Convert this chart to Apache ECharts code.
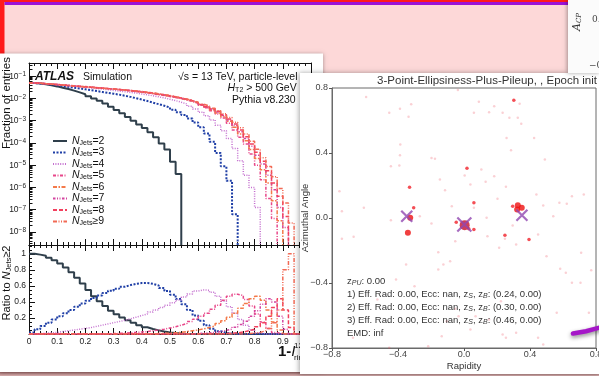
<!DOCTYPE html>
<html>
<head>
<meta charset="utf-8">
<script src="https://cdn.jsdelivr.net/npm/echarts@6/dist/echarts.min.js"></script>
<style>
  html, body { margin: 0; padding: 0; background: #fff; }
  #c { width: 599px; height: 376px; }
</style>
</head>
<body>
<div id="c"></div>
<script>
// ---------- jet-shape histograms (left sheet) ----------
// Bin edges of the 1 - I ring variable
const binEdges = [0.00,0.02,0.04,0.06,0.08,0.10,0.12,0.14,0.16,0.18,0.20,0.22,0.24,0.26,0.28,0.30,0.32,0.34,0.36,0.38,
                  0.40,0.42,0.44,0.46,0.48,0.50,0.52,0.54,0.56,0.58,0.60,0.62,0.64,0.66,0.68,0.70,0.72,0.74,0.76,0.78,
                  0.80,0.82,0.84,0.86,0.88,0.90,0.92,0.94,0.96,0.98,1.00];

const jetLabels = ['NJets=2','NJets=3','NJets=4','NJets=5','NJets=6','NJets=7','NJets=8','NJets\u22659'];

// log10 of the fraction of entries per bin
const logFracJets2 = [-1.31,-1.33,-1.36,-1.41,-1.46,-1.52,-1.58,-1.65,-1.73,-1.81,-1.90,-2.00,-2.11,-2.23,-2.37,-2.52,-2.67,-2.83,-3.00,-3.17,
                      -3.33,-3.52,-3.75,-4.02,-4.30,-4.85,-5.40];
const logFracJets3 = [-1.31,-1.33,-1.35,-1.38,-1.41,-1.44,-1.48,-1.52,-1.55,-1.59,-1.63,-1.67,-1.71,-1.75,-1.79,-1.83,-1.88,-1.93,-1.99,-2.05,
                      -2.12,-2.19,-2.26,-2.33,-2.41,-2.51,-2.62,-2.75,-2.90,-3.08,-3.30,-3.58,-3.95,-4.45,-5.05,-5.70,-7.20];
const logFracJets4 = [-1.31,-1.32,-1.34,-1.36,-1.38,-1.40,-1.43,-1.45,-1.48,-1.50,-1.53,-1.56,-1.58,-1.61,-1.64,-1.67,-1.70,-1.73,-1.76,-1.80,
                      -1.84,-1.88,-1.93,-1.98,-2.04,-2.10,-2.17,-2.25,-2.35,-2.48,-2.62,-2.78,-2.97,-3.20,-3.45,-3.80,-4.25,-4.80,-5.45,-6.00,
                      -6.90];
const logFracJets5 = [-1.31,-1.32,-1.33,-1.35,-1.37,-1.39,-1.41,-1.43,-1.45,-1.47,-1.49,-1.51,-1.53,-1.55,-1.58,-1.60,-1.63,-1.66,-1.69,-1.72,
                      -1.75,-1.79,-1.83,-1.87,-1.91,-1.96,-2.01,-2.07,-2.14,-2.22,-2.31,-2.42,-2.55,-2.70,-2.88,-3.12,-3.42,-3.75,-4.05,-4.50,
                      -5.00,-5.65,-6.50,-7.40];
const logFracJets6 = [-1.31,-1.32,-1.34,-1.36,-1.38,-1.40,-1.42,-1.44,-1.46,-1.48,-1.50,-1.52,-1.54,-1.56,-1.58,-1.60,-1.63,-1.66,-1.69,-1.72,
                      -1.75,-1.78,-1.82,-1.86,-1.90,-1.95,-2.00,-2.06,-2.12,-2.20,-2.29,-2.39,-2.51,-2.65,-2.82,-3.03,-3.30,-3.60,-3.90,-4.30,
                      -4.70,-5.20,-5.80,-6.60,-7.50];
const logFracJets7 = [-1.31,-1.32,-1.34,-1.36,-1.38,-1.40,-1.42,-1.44,-1.46,-1.48,-1.50,-1.52,-1.54,-1.56,-1.58,-1.60,-1.62,-1.65,-1.68,-1.71,
                      -1.74,-1.77,-1.81,-1.85,-1.89,-1.94,-1.99,-2.05,-2.11,-2.19,-2.28,-2.37,-2.48,-2.61,-2.77,-2.97,-3.22,-3.50,-3.80,-4.15,
                      -4.55,-4.95,-5.45,-6.10,-6.90,-7.80];
const logFracJets8 = [-1.31,-1.32,-1.34,-1.36,-1.38,-1.40,-1.42,-1.44,-1.46,-1.48,-1.50,-1.52,-1.54,-1.56,-1.58,-1.60,-1.62,-1.64,-1.67,-1.70,
                      -1.73,-1.76,-1.80,-1.84,-1.88,-1.93,-1.98,-2.04,-2.10,-2.18,-2.27,-2.36,-2.46,-2.58,-2.73,-2.92,-3.15,-3.42,-3.72,-4.05,
                      -4.42,-4.82,-5.25,-5.80,-6.40,-7.30];
const logFracJets9 = [-1.31,-1.32,-1.34,-1.36,-1.38,-1.40,-1.42,-1.44,-1.46,-1.48,-1.50,-1.52,-1.54,-1.56,-1.58,-1.60,-1.62,-1.64,-1.66,-1.69,
                      -1.72,-1.75,-1.79,-1.83,-1.87,-1.92,-1.97,-2.03,-2.09,-2.17,-2.26,-2.34,-2.44,-2.55,-2.69,-2.86,-3.07,-3.32,-3.60,-3.92,
                      -4.28,-4.66,-5.06,-5.52,-6.05,-6.70,-7.60];

// Ratio of each multiplicity to the inclusive NJets >= 2 sample
const ratioJets2 = [1.00,0.99,0.975,0.95,0.92,0.88,0.83,0.77,0.70,0.63,0.55,0.47,0.41,0.35,0.29,0.245,0.205,0.17,0.14,0.11,
                    0.085,0.063,0.045,0.03,0.02,0.012,0.005,0,0,0,0,0,0,0,0,0,0,0,0,0,0,0,0,0,0,0,0,0];
const ratioJets3 = [0.02,0.06,0.10,0.14,0.18,0.22,0.26,0.30,0.34,0.38,0.415,0.45,0.48,0.51,0.54,0.565,0.59,0.61,0.625,0.635,
                    0.635,0.625,0.605,0.575,0.535,0.49,0.435,0.37,0.30,0.23,0.165,0.11,0.065,0.035,0.015,0.005,0.001,0,0,0,0,0,0,0,0,0,0,0];
const ratioJets4 = [0,0.005,0.01,0.015,0.02,0.03,0.04,0.05,0.06,0.07,0.08,0.095,0.11,0.125,0.14,0.155,0.17,0.19,0.21,0.23,
                    0.25,0.275,0.30,0.33,0.36,0.39,0.425,0.46,0.50,0.535,0.55,0.545,0.52,0.47,0.41,0.34,0.26,0.18,0.11,0.05,
                    0.015,0,0,0,0,0,0,0];
const ratioJets5 = [0,0,0,0,0,0,0,0,0,0,0,0,0,0,0.005,0.008,0.01,0.015,0.02,0.025,
                    0.03,0.04,0.05,0.06,0.075,0.09,0.11,0.13,0.155,0.185,0.22,0.26,0.31,0.36,0.42,0.47,0.495,0.48,0.43,0.35,
                    0.25,0.15,0.07,0.02,0,0,0,0];
const ratioJets6 = [0,0,0,0,0,0,0,0,0,0,0,0,0,0,0,0,0,0,0,0,
                    0,0,0.005,0.008,0.01,0.015,0.02,0.03,0.04,0.05,0.065,0.08,0.10,0.13,0.165,0.21,0.26,0.32,0.38,0.44,
                    0.47,0.42,0.30,0.15,0.05,0,0,0];
const ratioJets7 = [0,0,0,0,0,0,0,0,0,0,0,0,0,0,0,0,0,0,0,0,
                    0,0,0,0,0,0,0,0,0,0.005,0.01,0.015,0.02,0.03,0.045,0.06,0.085,0.12,0.16,0.22,
                    0.29,0.37,0.44,0.40,0.22,0.06,0,0];
const ratioJets8 = [0,0,0,0,0,0,0,0,0,0,0,0,0,0,0,0,0,0,0,0,
                    0,0,0,0,0,0,0,0,0,0,0,0,0,0,0.005,0.01,0.015,0.025,0.04,0.06,
                    0.09,0.14,0.22,0.33,0.44,0.30,0.08,0];
const ratioJets9 = [0,0,0,0,0,0,0,0,0,0,0,0,0,0,0,0,0,0,0,0,
                    0,0,0,0,0,0,0,0,0,0,0,0,0,0,0,0,0,0,0.005,0.01,
                    0.02,0.04,0.07,0.14,0.30,0.80,1.00,0];

// ---------- event display (right sheet): [rapidity, azimuthal angle] ----------
const pileupParticles = [[-0.593,0.745],[-0.037,0.787],[-0.32,0.70],[-0.453,0.647],[-0.388,0.672],[-0.336,0.623],[0.09,0.715],
  [0.183,0.688],[0.337,0.703],[0.06,0.647],[0.152,0.651],[0.234,0.647],[0.275,0.617],[0.326,0.617],[0.347,0.58],[0.258,0.493],
  [0.425,0.493],[-0.386,0.452],[-0.388,0.386],[-0.443,0.319],[-0.392,0.323],[-0.197,0.37],[-0.176,0.364],[0.285,0.417],[0.49,0.36],
  [0.105,0.298],[0.004,0.262],[0.183,0.257],[0.131,0.223],[-0.146,0.237],[0.039,0.206],[-0.115,0.171],[-0.755,0.165],[0.254,0.192],
  [0.203,0.118],[0.439,0.145],[0.578,0.094],[0.654,0.134],[0.726,0.145],[0.623,0.087],[0.48,0.077],[-0.74,0.042],[-0.607,0.063],
  [-0.443,-0.014],[-0.268,0.011],[-0.197,-0.034],[-0.074,0.073],[0.06,0.063],[0.137,0.001],[0.295,-0.046],[0.541,0.011],
  [-0.053,-0.143],[0.449,-0.102],[-0.74,-0.128],[-0.669,-0.116],[0.142,-0.112],[-0.156,-0.21],[0.213,-0.183],[0.316,-0.163],
  [0.5,-0.235],[0.71,-0.214],[-0.125,-0.286],[-0.084,-0.266],[-0.156,-0.317],[-0.351,-0.286],[0.583,-0.313],[0.617,-0.337],
  [0.654,-0.399],[0.706,-0.399],[0.771,-0.321],[-0.412,-0.378],[-0.3,-0.42],[-0.525,-0.502],[-0.053,-0.559],[-0.033,-0.604],
  [-0.105,-0.635],[0.07,-0.604],[0.152,-0.625],[0.234,-0.717],[0.254,-0.737],[0.316,-0.706],[0.449,-0.737],[0.039,-0.686],
  [0.757,-0.583],[-0.135,-0.727],[-0.453,-0.799],[-0.217,-0.789],[0.48,-0.778],[-0.673,-0.737],[0.224,-0.512],[0.562,-0.583],
  [0.248,-0.128]];
const softParticles = [[0.302,0.725],[0.018,0.306],[0.06,0.094],[0.295,0.073],[-0.305,0.063],[-0.047,-0.026],[0.029,-0.066],
  [0.06,-0.071],[0.248,-0.106],[0.394,-0.132],[-0.33,0.19]];
const hardParticles = [[-0.326,0.001],[0.326,0.079],[0.35,0.063],[0.322,0.052],[-0.34,-0.091]];
const leadingParticle = [[0.004,-0.044]];
const centroids = [[-0.347,0.011],[0.002,-0.04],[0.351,0.017]];

// ---------- styling ----------
const SANS = "'Liberation Sans', Arial, Helvetica, sans-serif";
const jetStyles = [
  { color: '#2f3f4b', width: 2,   type: 'solid' },
  { color: '#1f3fa6', width: 2,   type: [2, 1.5] },
  { color: '#c470cf', width: 1.5, type: [1, 1.4] },
  { color: '#e8478a', width: 1.5, type: [3, 1.5, 1, 1.5] },
  { color: '#f47a4a', width: 1.5, type: [4, 1.5, 1.5, 1.5] },
  { color: '#d4449f', width: 1.5, type: [2.5, 1.5, 1, 1.5, 1, 1.5] },
  { color: '#f2405e', width: 1.5, type: [4, 2] },
  { color: '#f26a55', width: 1.5, type: [4, 1.5, 1, 1.5, 1, 1.5] }
];
const logFracSeries = [logFracJets2, logFracJets3, logFracJets4, logFracJets5, logFracJets6, logFracJets7, logFracJets8, logFracJets9];
const ratioSeries = [ratioJets2, ratioJets3, ratioJets4, ratioJets5, ratioJets6, ratioJets7, ratioJets8, ratioJets9];

const fracMin = 2.6e-9, fracMax = 0.39;

// 2..9 x 10^n minor tick positions for the logarithmic axis
const logMinorTicks = [];
for (let e = -9; e <= -1; e++) {
  for (let m = 2; m <= 9; m++) {
    const v = m * Math.pow(10, e);
    if (v > fracMin && v < fracMax) logMinorTicks.push(v);
  }
}

// step-histogram points from per-bin values (left bin edges, closed at the right edge)
function histPoints(values, dropTo) {
  const pts = values.map((v, k) => [binEdges[k], v]);
  const n = values.length;
  pts.push([binEdges[n], values[n - 1]]);
  if (dropTo !== undefined) pts.push([binEdges[n], dropTo]);
  return pts;
}

const series = [];
logFracSeries.forEach((logs, i) => {
  series.push({
    name: jetLabels[i], type: 'line', step: 'end', xAxisIndex: 0, yAxisIndex: 0,
    data: histPoints(logs.map(e => Math.pow(10, e)), fracMin),
    symbol: 'none', showSymbol: false, z: 3, animation: false,
    lineStyle: { color: jetStyles[i].color, width: jetStyles[i].width, type: jetStyles[i].type, cap: 'butt' },
    itemStyle: { color: jetStyles[i].color }
  });
});
ratioSeries.forEach((vals, i) => {
  series.push({
    name: jetLabels[i], type: 'line', step: 'end', xAxisIndex: 2, yAxisIndex: 2,
    data: histPoints(vals),
    symbol: 'none', showSymbol: false, z: 3, animation: false,
    lineStyle: { color: jetStyles[i].color, width: jetStyles[i].width, type: jetStyles[i].type, cap: 'butt' },
    itemStyle: { color: jetStyles[i].color }
  });
});
series.push(
  { type: 'scatter', xAxisIndex: 4, yAxisIndex: 4, data: pileupParticles, symbolSize: 2.5, z: 12,
    itemStyle: { color: 'rgba(236,60,80,0.30)' }, animation: false, silent: true },
  { type: 'scatter', xAxisIndex: 4, yAxisIndex: 4, data: softParticles, symbolSize: 3.5, z: 12,
    itemStyle: { color: 'rgba(240,10,20,0.9)' }, animation: false, silent: true },
  { type: 'scatter', xAxisIndex: 4, yAxisIndex: 4, data: hardParticles, symbolSize: 6, z: 12,
    itemStyle: { color: '#ee1010' }, animation: false, silent: true },
  { type: 'scatter', xAxisIndex: 4, yAxisIndex: 4, data: leadingParticle, symbolSize: 10, z: 12,
    itemStyle: { color: '#c8102a' }, animation: false, silent: true },
  { type: 'scatter', xAxisIndex: 4, yAxisIndex: 4, data: centroids, z: 13,
    symbol: 'path://M0,0L10,10M10,0L0,10',
    symbolSize: (v, p) => (p.dataIndex === 1 ? 14 : 11),
    itemStyle: { color: 'rgba(0,0,0,0)', borderColor: '#9147b0', borderWidth: 2.2 },
    animation: false, silent: true }
);

// ---------- axes ----------
const black = '#111';
function atlasX(gridIndex, position, showLabel) {
  return {
    type: 'value', gridIndex, position, min: 0, max: 1, interval: 0.1, z: 2,
    axisLine: { show: true, onZero: false, lineStyle: { color: black, width: 1 } },
    axisTick: { show: true, inside: true, length: 6, lineStyle: { color: black } },
    minorTick: { show: true, splitNumber: 5, length: 3, lineStyle: { color: black } },
    splitLine: { show: false },
    axisLabel: { show: showLabel, margin: 3, fontSize: 8.5, color: '#222', fontFamily: SANS }
  };
}
function atlasLogY(gridIndex, position, showLabel) {
  return {
    type: 'log', logBase: 10, gridIndex, position, min: fracMin, max: fracMax, splitNumber: 8, z: 2,
    axisLine: { show: true, onZero: false, lineStyle: { color: black, width: 1 } },
    axisTick: { show: true, inside: true, length: 7, lineStyle: { color: black } },
    minorTick: { show: false },
    splitLine: { show: false },
    axisLabel: {
      show: showLabel, margin: 3, showMinLabel: false, showMaxLabel: false,
      formatter: v => '{b|10}{e|\u2212' + (-Math.round(Math.log10(v))) + '}',
      rich: {
        b: { fontSize: 8.5, color: '#222', fontFamily: SANS, lineHeight: 10 },
        e: { fontSize: 6.5, color: '#222', fontFamily: SANS, lineHeight: 4, verticalAlign: 'top' }
      }
    }
  };
}
function atlasRatioY(position, showLabel) {
  return {
    type: 'value', gridIndex: 1, position, min: 0, max: 1.11, interval: 0.2, z: 2,
    axisLine: { show: true, onZero: false, lineStyle: { color: black, width: 1 } },
    axisTick: { show: true, inside: true, length: 6, lineStyle: { color: black } },
    minorTick: { show: true, splitNumber: 4, length: 3, lineStyle: { color: black } },
    splitLine: { show: false },
    axisLabel: { show: showLabel, margin: 3, fontSize: 8.5, color: '#222', fontFamily: SANS,
      showMinLabel: false, showMaxLabel: false, formatter: v => String(Math.round(v * 10) / 10) }
  };
}
const signed = v => (v < -1e-9 ? '\u2212' : '') + Math.abs(v).toFixed(1);

const xAxes = [
  atlasX(0, 'bottom', false),
  atlasX(0, 'top', false),
  atlasX(1, 'bottom', true),
  atlasX(1, 'top', false),
  {
    type: 'value', gridIndex: 2, min: -0.8, max: 0.8, interval: 0.4, z: 11,
    name: 'Rapidity', nameLocation: 'middle', nameGap: 13, nameMoveOverlap: false,
    nameTextStyle: { fontSize: 9.5, color: '#333', fontFamily: SANS },
    axisLine: { show: true, onZero: false, lineStyle: { color: '#6a6a6a' } },
    axisTick: { show: true, length: 3, lineStyle: { color: '#555' } },
    splitLine: { show: false },
    axisLabel: { margin: 2, fontSize: 9, color: '#444', fontFamily: SANS, formatter: signed }
  },
  // companion axis of the minor-tick overlay
  { type: 'value', gridIndex: 3, min: 0, max: 1, show: false }
];
const yAxes = [
  atlasLogY(0, 'left', true),
  atlasLogY(0, 'right', false),
  atlasRatioY('left', true),
  atlasRatioY('right', false),
  {
    type: 'value', gridIndex: 2, min: -0.8, max: 0.8, interval: 0.4, z: 11,
    name: 'Azimuthal Angle', nameLocation: 'middle', nameGap: 22, nameRotate: 90, nameMoveOverlap: false,
    nameTextStyle: { fontSize: 9.5, color: '#333', fontFamily: SANS },
    axisLine: { show: true, onZero: false, lineStyle: { color: '#6a6a6a' } },
    axisTick: { show: true, length: 3, lineStyle: { color: '#555' } },
    splitLine: { show: false },
    axisLabel: { margin: 4, fontSize: 9, color: '#444', fontFamily: SANS, formatter: signed }
  },
  // logarithmic minor ticks (2..9 per decade) drawn on an overlay of the upper frame
  {
    type: 'log', logBase: 10, gridIndex: 3, position: 'left', min: fracMin, max: fracMax, z: 2,
    axisLine: { show: false }, axisLabel: { show: false }, splitLine: { show: false },
    axisTick: { show: true, inside: true, length: 3.5, customValues: logMinorTicks, lineStyle: { color: black } }
  }
];

// ---------- sheets, annotations ----------
const shade = 'rgba(0,0,0,0.35)';
const graphics = [
  { type: 'rect', z: 0, shape: { x: 0, y: 0, width: 599, height: 376 }, style: { fill: '#fdd8d8' } },
  { type: 'rect', z: 0, shape: { x: 0, y: 0, width: 4.5, height: 376 }, style: { fill: '#ff1a1a' } },
  { type: 'rect', z: 0, shape: { x: 0, y: 0, width: 599, height: 2 }, style: { fill: '#ff1a1a' } },
  { type: 'rect', z: 0, shape: { x: 4.5, y: 2, width: 595, height: 3 }, style: { fill: '#9b12d6' } },
  { type: 'rect', z: 0, shape: { x: 0, y: 371, width: 599, height: 5 },
    style: { fill: new echarts.graphic.LinearGradient(0, 0, 0, 1, [{ offset: 0, color: '#8f5656' }, { offset: 1, color: '#d8b0b0' }]) } },
  // left sheet
  { type: 'rect', z: 1, shape: { x: 0, y: 53.5, width: 323, height: 318.5 },
    style: { fill: '#ffffff', shadowBlur: 4, shadowColor: shade } },
  { type: 'text', z: 4, x: 35, y: 77, style: { text: 'ATLAS', fontSize: 12, fontWeight: 'bold', fontStyle: 'italic',
      fontFamily: SANS, fill: '#111', align: 'left', verticalAlign: 'middle' } },
  { type: 'text', z: 4, x: 83, y: 77, style: { text: 'Simulation', fontSize: 10.5, fontFamily: SANS, fill: '#111',
      align: 'left', verticalAlign: 'middle' } },
  { type: 'text', z: 4, x: 297.5, y: 77, style: { text: '\u221As = 13 TeV, particle-level', fontSize: 10.5, fontFamily: SANS,
      fill: '#111', align: 'right', verticalAlign: 'middle' } },
  { type: 'text', z: 4, x: 296.7, y: 88.5, style: { text: '{i|H}{s|T2}{t| > 500 GeV}', align: 'right', verticalAlign: 'middle',
      rich: { i: { fontSize: 10.5, fontStyle: 'italic', fontFamily: SANS, fill: '#111', lineHeight: 11 },
              s: { fontSize: 7, fontFamily: SANS, fill: '#111', lineHeight: 5, verticalAlign: 'bottom' },
              t: { fontSize: 10.5, fontFamily: SANS, fill: '#111', lineHeight: 11 } } } },
  { type: 'text', z: 4, x: 295.7, y: 100, style: { text: 'Pythia v8.230', fontSize: 10.5, fontFamily: SANS, fill: '#111',
      align: 'right', verticalAlign: 'middle' } },
  { type: 'text', z: 4, x: 6.5, y: 103, rotation: Math.PI / 2, style: { text: 'Fraction of entries', fontSize: 11.5,
      fontFamily: SANS, fill: '#111', align: 'center', verticalAlign: 'middle' } },
  { type: 'text', z: 4, x: 6.5, y: 283, rotation: Math.PI / 2, style: { text: '{t|Ratio to }{i|N}{s|Jets}{t|\u22652}',
      align: 'center', verticalAlign: 'middle',
      rich: { t: { fontSize: 11, fontFamily: SANS, fill: '#111', lineHeight: 12 },
              i: { fontSize: 11, fontStyle: 'italic', fontFamily: SANS, fill: '#111', lineHeight: 12 },
              s: { fontSize: 7.5, fontFamily: SANS, fill: '#111', lineHeight: 6, verticalAlign: 'bottom' } } } },
  { type: 'text', z: 4, x: 278, y: 352, style: { text: '{b|1-}{i|I}', align: 'left', verticalAlign: 'middle',
      rich: { b: { fontSize: 15, fontWeight: 'bold', fontFamily: SANS, fill: '#111' },
              i: { fontSize: 15, fontStyle: 'italic', fontFamily: SANS, fill: '#111' } } } },
  { type: 'text', z: 4, x: 294, y: 346, style: { text: '12', fontSize: 8, fontFamily: SANS, fill: '#111', align: 'left', verticalAlign: 'middle' } },
  { type: 'text', z: 4, x: 294, y: 358, style: { text: 'ring', fontSize: 8, fontFamily: SANS, fill: '#111', align: 'left', verticalAlign: 'middle' } },
  // right sheet
  { type: 'rect', z: 10, shape: { x: 300, y: 73, width: 300, height: 301 },
    style: { fill: '#ffffff', shadowBlur: 5, shadowOffsetX: -1, shadowColor: shade } },
  { type: 'rect', z: 10, shape: { x: 568, y: 0, width: 32, height: 73 },
    style: { fill: '#fbfbfb', shadowBlur: 4, shadowOffsetX: -1, shadowColor: shade } },
  { type: 'text', z: 13, x: 577, y: 22, rotation: Math.PI / 2, style: { text: '{a|A}{s|CP}', align: 'center', verticalAlign: 'middle',
      rich: { a: { fontSize: 11, fontStyle: 'italic', fontFamily: "'DejaVu Serif', serif", fill: '#333', lineHeight: 12 },
              s: { fontSize: 7, fontStyle: 'italic', fontFamily: "'DejaVu Serif', serif", fill: '#333', lineHeight: 5, verticalAlign: 'bottom' } } } },
  { type: 'text', z: 13, x: 592, y: 20, style: { text: '0.', fontSize: 9, fontFamily: "'DejaVu Serif', serif", fill: '#444', align: 'left', verticalAlign: 'middle' } },
  { type: 'text', z: 13, x: 589, y: 66, style: { text: '\u22120.', fontSize: 9, fontFamily: "'DejaVu Serif', serif", fill: '#444', align: 'left', verticalAlign: 'middle' } },
  { type: 'text', z: 13, x: 597, y: 80.5, style: { text: '3-Point-Ellipsiness-Plus-Pileup, , Epoch init', fontSize: 11.5,
      fontFamily: SANS, fill: '#333', align: 'right', verticalAlign: 'middle' } }
];

// fit summary inside the event display
const subRich = {
  t: { fontSize: 9.5, fontFamily: SANS, fill: '#333', lineHeight: 11 },
  s: { fontSize: 7, fontStyle: 'italic', fontFamily: SANS, fill: '#333', lineHeight: 5, verticalAlign: 'bottom' }
};
const summaryLines = [
  '{t|z}{s|PU}{t|: 0.00}',
  '{t|1) Eff. Rad: 0.00, Ecc: nan, z}{s|S}{t|, z}{s|B}{t|: (0.24, 0.00)}',
  '{t|2) Eff. Rad: 0.00, Ecc: nan, z}{s|S}{t|, z}{s|B}{t|: (0.30, 0.00)}',
  '{t|3) Eff. Rad: 0.00, Ecc: nan, z}{s|S}{t|, z}{s|B}{t|: (0.46, 0.00)}',
  '{t|EMD: inf}'
];
summaryLines.forEach((txt, i) => {
  graphics.push({ type: 'text', z: 13, x: 347, y: 281.5 + i * 13,
    style: { text: txt, align: 'left', verticalAlign: 'middle', rich: subRich } });
});
// stroke from the sheet underneath
graphics.push({ type: 'polyline', z: 14, shape: { points: [[573, 333.5], [586, 331.2], [600, 327.5]] },
  style: { stroke: '#a517c8', lineWidth: 4.5, lineCap: 'round', fill: null,
           shadowBlur: 4, shadowOffsetY: 2, shadowColor: 'rgba(0,0,0,0.45)' } });

const option = {
  animation: false,
  backgroundColor: '#fdd8d8',
  textStyle: { fontFamily: SANS },
  grid: [
    { left: 29, top: 63, width: 282, height: 182, outerBoundsMode: 'none', containLabel: false },
    { left: 29, top: 245, width: 282, height: 89, outerBoundsMode: 'none', containLabel: false },
    { left: 332, top: 88, width: 264, height: 260, outerBoundsMode: 'none', containLabel: false,
      show: true, borderColor: '#6a6a6a', borderWidth: 1, backgroundColor: 'rgba(0,0,0,0)', z: 11 },
    { left: 29, top: 63, width: 282, height: 182, outerBoundsMode: 'none', containLabel: false }
  ],
  legend: {
    data: jetLabels, orient: 'vertical', left: 47, top: 130.5, z: 4,
    itemWidth: 14, itemHeight: 8, itemGap: 0.5, selectedMode: false,
    itemStyle: { opacity: 0 },
    formatter: name => '{n|N}{s|Jets}{t|' + name.slice(5) + '}',
    textStyle: {
      color: '#111',
      rich: {
        n: { fontSize: 10.5, fontStyle: 'italic', fontFamily: SANS, color: '#111', lineHeight: 11 },
        s: { fontSize: 7, fontFamily: SANS, color: '#111', lineHeight: 5, verticalAlign: 'bottom' },
        t: { fontSize: 10.5, fontFamily: SANS, color: '#111', lineHeight: 11 }
      }
    }
  },
  xAxis: xAxes,
  yAxis: yAxes,
  series: series,
  graphic: { elements: graphics }
};

const chart = echarts.init(document.getElementById('c'), null, { renderer: 'canvas' });
chart.setOption(option);
</script>
</body>
</html>
